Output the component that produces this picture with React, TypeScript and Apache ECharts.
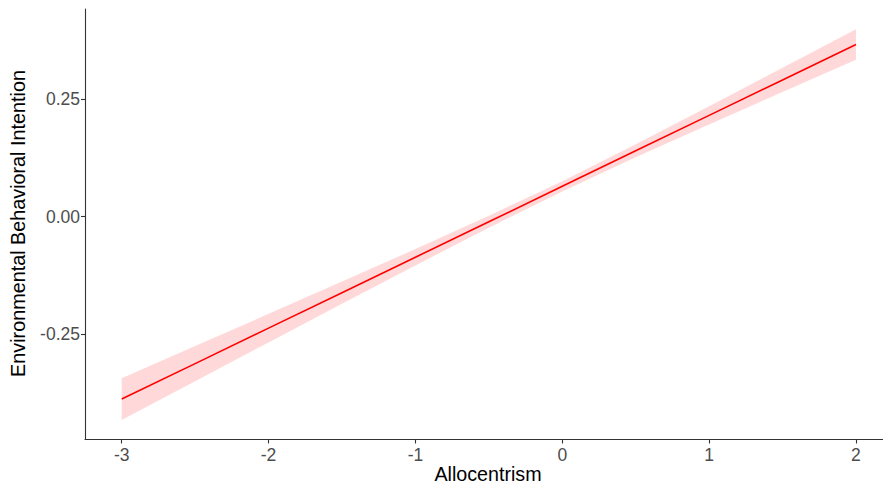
import React, { useEffect, useRef } from "react";
import * as echarts from "echarts";

const xValues = [-3, -2.5, -2, -1.5, -1, -0.5, 0, 0.5, 1, 1.5, 2];
const fitValues = [-0.3885, -0.313, -0.2374, -0.1619, -0.0863, -0.0108, 0.0648, 0.1404, 0.2159, 0.2915, 0.367];
const lowerValues = [-0.433, -0.3504, -0.2678, -0.1856, -0.1038, -0.0235, 0.0538, 0.1265, 0.1966, 0.2658, 0.3345];
const upperValues = [-0.344, -0.2756, -0.207, -0.1382, -0.0688, 0.0019, 0.0758, 0.1543, 0.2352, 0.3172, 0.3995];
const xTicks = [-3, -2, -1, 0, 1, 2];
const yTicks = [-0.25, 0, 0.25];

const FONT = "Liberation Sans, Arial, Helvetica, sans-serif";

export default function App() {
  const ref = useRef<HTMLDivElement>(null);
  useEffect(() => {
    if (!ref.current) return;
    const chart = echarts.init(ref.current, null, { renderer: "svg" });
    const axisCommon = {
      type: "value" as const,
      splitLine: { show: false },
      axisLine: { show: true, onZero: false, lineStyle: { color: "#333333", width: 1.1 } },
    };
    chart.setOption({
      animation: false,
      backgroundColor: "#ffffff",
      grid: { left: 85, right: 0, top: 9, bottom: 45.5, containLabel: false },
      xAxis: {
        ...axisCommon,
        min: -3.25,
        max: 2.184,
        axisTick: { show: true, customValues: xTicks, length: 4, lineStyle: { color: "#333333", width: 1.1 } },
        axisLabel: { customValues: xTicks, color: "#4d4d4d", fontSize: 17.5, fontFamily: FONT, margin: 6 },
      },
      yAxis: {
        ...axisCommon,
        min: -0.4747,
        max: 0.4426,
        axisTick: { show: true, customValues: yTicks, length: 4, lineStyle: { color: "#333333", width: 1.1 } },
        axisLabel: {
          customValues: yTicks,
          color: "#4d4d4d",
          fontSize: 17.5,
          fontFamily: FONT,
          margin: 5,
          formatter: (v: number) => (Math.abs(v) < 1e-9 ? "0.00" : v.toFixed(2)),
        },
      },
      graphic: [
        {
          type: "text",
          x: 488,
          y: 484,
          style: { text: "Allocentrism", fontSize: 19.7, fontFamily: FONT, fill: "#000000", align: "center", verticalAlign: "bottom" },
        },
        {
          type: "text",
          x: 18,
          y: 223.5,
          rotation: Math.PI / 2,
          style: {
            text: "Environmental Behavioral Intention",
            fontSize: 19.8,
            fontFamily: FONT,
            fill: "#000000",
            align: "center",
            verticalAlign: "middle",
          },
        },
      ],
      series: [
        {
          type: "custom",
          data: [0],
          z: 1,
          renderItem: (_params: any, api: any) => {
            const pts: number[][] = [];
            for (let i = 0; i < xValues.length; i++) pts.push(api.coord([xValues[i], upperValues[i]]));
            for (let i = xValues.length - 1; i >= 0; i--) pts.push(api.coord([xValues[i], lowerValues[i]]));
            return {
              type: "polygon",
              shape: { points: pts, smooth: 0 },
              style: { fill: "rgba(255,0,0,0.15)", stroke: "none" },
            };
          },
        },
        {
          type: "line",
          z: 2,
          data: xValues.map((x, i) => [x, fitValues[i]]),
          showSymbol: false,
          symbol: "none",
          lineStyle: { color: "#ff0000", width: 1.6 },
        },
      ],
    });
    return () => chart.dispose();
  }, []);
  return <div ref={ref} style={{ position: "fixed", left: 0, top: 0, width: 883, height: 485 }} />;
}
